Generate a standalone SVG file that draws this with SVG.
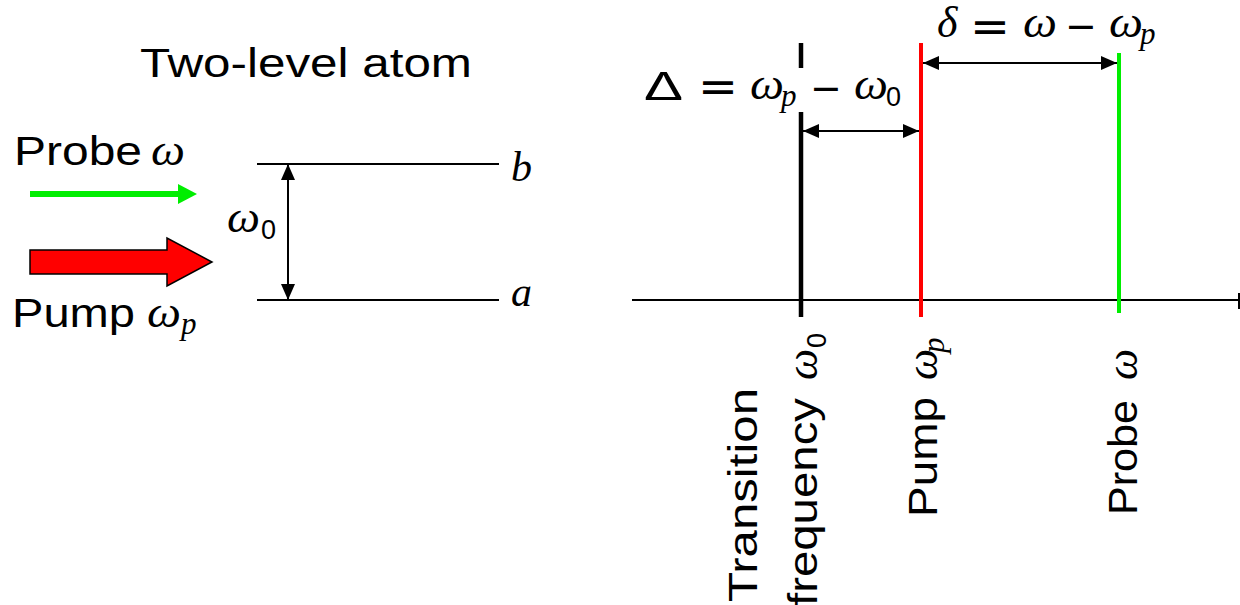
<svg xmlns="http://www.w3.org/2000/svg" width="1240" height="605" viewBox="0 0 1240 605">
<defs>
<style>
.sans{font-family:"Liberation Sans","DejaVu Sans",sans-serif;fill:#000}
.dv{font-family:"DejaVu Sans","Liberation Sans",sans-serif;fill:#000}
.math{font-family:"Liberation Serif","DejaVu Serif",serif;font-style:italic;fill:#000}
.om{font-family:"Liberation Serif","DejaVu Serif",serif;font-style:italic;fill:#000;font-size:44px}
.sub{font-family:"Liberation Serif","DejaVu Serif",serif;font-style:italic;fill:#000;font-size:31px}
.thin{stroke:#000;stroke-width:2;fill:none}
</style>
<marker id="ah" viewBox="0 0 16 14" refX="16" refY="7" markerWidth="16" markerHeight="14" markerUnits="userSpaceOnUse" orient="auto-start-reverse">
<path d="M0,0 L16,7 L0,14 Z" fill="#000"/>
</marker>
</defs>
<rect width="1240" height="605" fill="#fff"/>

<g id="title">
<text class="sans" x="140" y="77" font-size="41" textLength="332" lengthAdjust="spacingAndGlyphs">Two-level atom</text>
</g>

<g id="probe-beam">
<text class="sans" x="14" y="165" font-size="41" textLength="128" lengthAdjust="spacingAndGlyphs">Probe</text>
<text class="om" x="151" y="165" textLength="34" lengthAdjust="spacingAndGlyphs">ω</text>
<line x1="30" y1="194" x2="180" y2="194" stroke="#00ee00" stroke-width="6"/>
<polygon points="178,184 197,194 178,204" fill="#00ee00"/>
</g>

<g id="pump-beam">
<polygon points="30,250 167,250 167,238 212,262 167,286 167,274 30,274" fill="#ff0000" stroke="#000" stroke-width="1.5"/>
<text class="sans" x="12" y="327" font-size="41" textLength="123" lengthAdjust="spacingAndGlyphs">Pump</text>
<text class="om" x="147" y="327" textLength="34" lengthAdjust="spacingAndGlyphs">ω</text>
<text class="sub" x="181" y="334">p</text>
</g>

<g id="level-b">
<line class="thin" x1="257" y1="164" x2="499" y2="164"/>
<text class="math" x="511" y="181" font-size="42">b</text>
</g>
<g id="level-a">
<line class="thin" x1="257" y1="300" x2="499" y2="300"/>
<text class="math" x="511" y="306" font-size="42">a</text>
</g>
<g id="omega0-label">
<text class="om" x="227" y="232" textLength="33" lengthAdjust="spacingAndGlyphs">ω</text>
<text class="sans" x="261" y="239" font-size="27">0</text>
</g>

<g id="axis">
<line class="thin" x1="632" y1="300" x2="1240" y2="300"/>
<line x1="1239" y1="293" x2="1239" y2="309" stroke="#000" stroke-width="2"/>
</g>

<g id="transition-line">
<line x1="801" y1="43" x2="801" y2="68" stroke="#000" stroke-width="4.5"/>
<line x1="801" y1="112" x2="801" y2="317" stroke="#000" stroke-width="4.5"/>
</g>
<g id="pump-line">
<line x1="921" y1="43" x2="921" y2="317" stroke="#ff0000" stroke-width="4"/>
</g>
<g id="probe-line">
<line x1="1119" y1="53" x2="1119" y2="313" stroke="#00ee00" stroke-width="4"/>
</g>

<g id="Delta-label">
<text class="sans" x="644" y="100" font-size="40" textLength="39" lengthAdjust="spacingAndGlyphs">Δ</text>
<text class="dv" x="698" y="102" font-size="44" textLength="40" lengthAdjust="spacingAndGlyphs">=</text>
<text class="om" x="750" y="99" textLength="34" lengthAdjust="spacingAndGlyphs">ω</text>
<text class="sub" x="781" y="106">p</text>
<text class="dv" x="810" y="101" font-size="38">−</text>
<text class="om" x="854" y="99" textLength="34" lengthAdjust="spacingAndGlyphs">ω</text>
<text class="sans" x="886" y="106" font-size="27">0</text>
</g>

<g id="delta-label">
<text class="math" x="937" y="37" font-size="44">δ</text>
<text class="dv" x="970" y="42" font-size="44" textLength="40" lengthAdjust="spacingAndGlyphs">=</text>
<text class="om" x="1023" y="37" textLength="34" lengthAdjust="spacingAndGlyphs">ω</text>
<text class="dv" x="1065" y="39" font-size="38">−</text>
<text class="om" x="1109" y="37" textLength="34" lengthAdjust="spacingAndGlyphs">ω</text>
<text class="sub" x="1140" y="44">p</text>
</g>

<g id="connectors">
<line class="thin" x1="288" y1="164" x2="288" y2="300" marker-start="url(#ah)" marker-end="url(#ah)"/>
<line class="thin" x1="803" y1="131" x2="919" y2="131" marker-start="url(#ah)" marker-end="url(#ah)"/>
<line class="thin" x1="923" y1="63" x2="1117" y2="63" marker-start="url(#ah)" marker-end="url(#ah)"/>
</g>

<g id="axis-labels">
<text class="sans" font-size="40" transform="translate(757,602) rotate(-90)" textLength="214" lengthAdjust="spacingAndGlyphs">Transition</text>
<g transform="translate(817,606) rotate(-90)">
<text class="sans" x="0" y="0" font-size="40" textLength="208" lengthAdjust="spacingAndGlyphs">frequency</text>
<text class="om" x="226" y="0" font-size="42">ω</text>
<text class="sans" x="258" y="9" font-size="27">0</text>
</g>
<g transform="translate(937,517) rotate(-90)">
<text class="sans" x="0" y="0" font-size="40" textLength="120" lengthAdjust="spacingAndGlyphs">Pump</text>
<text class="om" x="137" y="0" font-size="42">ω</text>
<text class="sub" x="164" y="7" font-size="28">p</text>
</g>
<g transform="translate(1137,515) rotate(-90)">
<text class="sans" x="0" y="0" font-size="40" textLength="115" lengthAdjust="spacingAndGlyphs">Probe</text>
<text class="om" x="135" y="0" font-size="42">ω</text>
</g>
</g>
</svg>
